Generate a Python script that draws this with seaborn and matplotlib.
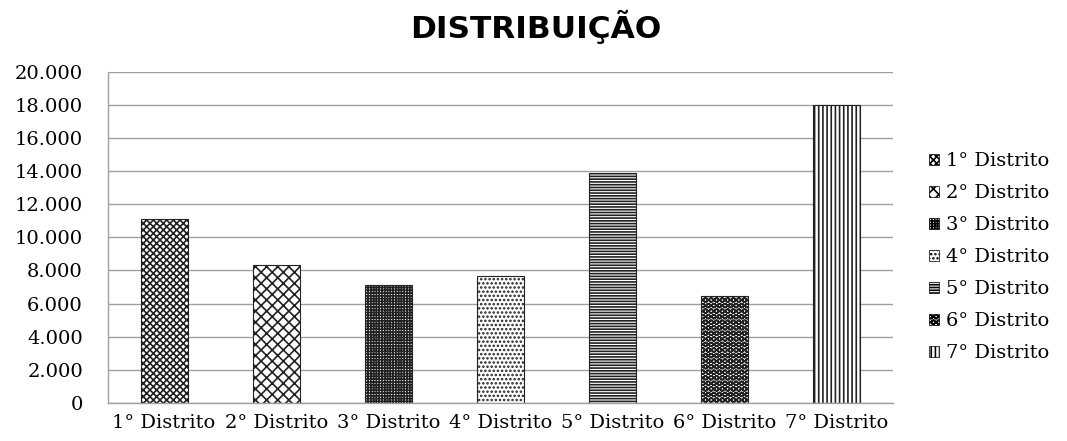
import matplotlib
matplotlib.use("Agg")
import matplotlib.pyplot as plt
import seaborn as sns
import pandas as pd
from matplotlib.patches import Patch
from matplotlib.ticker import FuncFormatter

categories = ["1° Distrito", "2° Distrito", "3° Distrito", "4° Distrito",
              "5° Distrito", "6° Distrito", "7° Distrito"]
values = [11100, 8350, 7100, 7650, 13900, 6450, 18000]
yticks = [0, 2000, 4000, 6000, 8000, 10000, 12000, 14000, 16000, 18000, 20000]
title = "DISTRIBUIÇÃO"

hatches = ["xxxxx", "xxx", "++++++", "....", "------", "OOO", "||||"]

sns.set_theme(style="white")
plt.rcParams["font.family"] = ["DejaVu Serif", "Liberation Serif"]
plt.rcParams["text.color"] = "black"
plt.rcParams["hatch.linewidth"] = 1.2
plt.rcParams["hatch.color"] = "black"

df = pd.DataFrame({"cat": categories, "val": values})

fig = plt.figure(figsize=(10.67, 4.41), dpi=100)
ax = fig.add_axes([0.1012, 0.0862, 0.7357, 0.7512])

sns.barplot(data=df, x="cat", y="val", ax=ax, width=0.42,
            color="white", edgecolor="black", linewidth=0.8, saturation=1)

for bar, h in zip(ax.patches, hatches):
    bar.set_hatch(h)
    bar.set_facecolor("white")
    bar.set_edgecolor("#222222")

ax.set_ylim(0, 20000)
ax.set_yticks(yticks)
ax.yaxis.set_major_formatter(FuncFormatter(lambda v, p: f"{int(v):,}".replace(",", ".")))
ax.set_xlabel("")
ax.set_ylabel("")
ax.grid(axis="y", color="#a0a0a0", linewidth=1.0)
ax.set_axisbelow(True)
for s in ["top", "right"]:
    ax.spines[s].set_visible(False)
for s in ["left", "bottom"]:
    ax.spines[s].set_color("#a0a0a0")
    ax.spines[s].set_linewidth(1.0)
ax.tick_params(axis="y", labelsize=14, pad=18, length=0, colors="black")
ax.tick_params(axis="x", labelsize=14, pad=8, length=0, colors="black")

handles = [Patch(facecolor="white", edgecolor="black", hatch=h, linewidth=0.5, label=c)
           for h, c in zip(hatches, categories)]
leg = fig.legend(handles=handles, loc="center left", bbox_to_anchor=(0.871, 0.417),
                 frameon=False, fontsize=14, handlelength=0.5, handleheight=0.5,
                 handletextpad=0.35, labelspacing=0.72, borderpad=0, borderaxespad=0,
                 labelcolor="black")

fig.text(0.502, 0.9138, title, ha="center", va="baseline", fontsize=22.5,
         fontweight="bold", color="black", family=["DejaVu Sans"])

fig.savefig("out.png", dpi=100)
